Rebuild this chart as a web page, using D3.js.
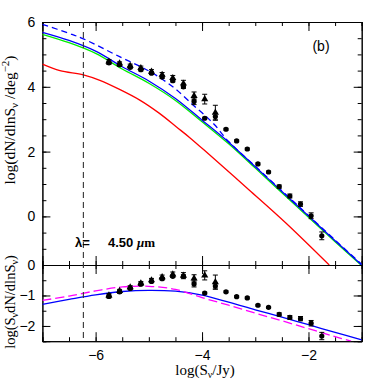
<!DOCTYPE html>
<html>
<head>
<meta charset="utf-8">
<script src="https://cdn.jsdelivr.net/npm/d3@7"></script>
<style>
  body { margin: 0; background: #fff; }
  svg { display: block; }
</style>
</head>
<body>
<div id="chart"></div>
<script>
// model curves, top panel: log(dN/dlnS)
const gridX = [-7, -6.5, -6, -5.5, -5, -4.5, -4, -3.5, -3, -2.5, -2, -1.5, -1];
const blueTop = [5.68, 5.43, 5.10, 4.62, 4.18, 3.64, 2.97, 2.29, 1.53, 0.77, 0.01, -0.75, -1.50];
const greenTop = [5.62, 5.36, 5.03, 4.55, 4.11, 3.58, 2.92, 2.24, 1.49, 0.73, -0.03, -0.78, -1.52];
const dashX = [-7, -6.5, -6.23, -5.55, -4.98, -4.55, -4.17, -3.92, -3.76, -3.5, -3, -2.5, -2, -1.5, -1];
const dashTop = [5.93, 5.65, 5.48, 4.93, 4.47, 4.00, 3.44, 3.08, 2.82, 2.31, 1.55, 0.79, 0.03, -0.73, -1.48];
const redX = [-7, -6.67, -6.23, -5.92, -5.55, -5.17, -4.8, -4.48, -4.23, -3.86, -3.11, -2.42, -1.61];
const redTop = [4.70, 4.50, 4.37, 4.20, 3.92, 3.59, 3.18, 2.76, 2.43, 1.90, 0.81, -0.21, -1.50];

// model curves, bottom panel: log(S dN/dlnS)
const blueBot = [-1.29, -1.13, -0.98, -0.87, -0.83, -0.86, -0.99, -1.22, -1.47, -1.71, -1.96, -2.21, -2.46];
const magX = [-7, -6.5, -6, -5.5, -5, -4.5, -4, -3.5, -3, -2.5, -2, -1.5, -1.2];
const magBot = [-1.16, -1.02, -0.85, -0.72, -0.70, -0.80, -1.07, -1.32, -1.58, -1.83, -2.09, -2.35, -2.50];

// data: triangles
const triX = [-5.75, -5.55, -5.35, -5.15, -4.95, -4.75, -4.55, -4.35, -4.15, -3.95, -3.75];
const triTop = [4.78, 4.72, 4.65, 4.58, 4.47, 4.37, 4.27, 4.10, 3.72, 3.62, 3.20];
const triBot = [-1.00, -0.85, -0.73, -0.60, -0.50, -0.40, -0.31, -0.35, -0.44, -0.34, -0.56];
const triErr = [0.06, 0.05, 0.05, 0.06, 0.06, 0.07, 0.08, 0.10, 0.12, 0.15, 0.23];

// data: circles
const cirX = [-5.75, -5.55, -5.35, -5.15, -4.95, -4.75, -4.55, -4.35, -4.15, -3.95, -3.75, -3.55, -3.35,
              -3.15, -2.95, -2.75, -2.55, -2.35, -2.15, -1.95, -1.75];
const cirTop = [4.74, 4.68, 4.60, 4.53, 4.42, 4.30, 4.19, 4.00, 3.55, 3.03, 3.08, 2.69, 2.33,
                2.08, 1.62, 1.37, 0.92, 0.63, 0.38, 0.02, -0.60];
const cirBot = [-1.03, -0.88, -0.77, -0.63, -0.54, -0.45, -0.37, -0.37, -0.62, -0.92, -0.69, -0.88, -1.04,
                -1.08, -1.32, -1.39, -1.62, -1.72, -1.76, -1.91, -2.33];
const cirErr = [0.05, 0.05, 0.04, 0.04, 0.04, 0.04, 0.04, 0.05, 0.10, 0.03, 0.10, 0.03, 0.03,
                0.03, 0.03, 0.03, 0.05, 0.06, 0.07, 0.09, 0.12];

const lambdaX = -6.23;

const svg = d3.select("#chart").append("svg")
    .attr("width", 382).attr("height", 382);

const x = d3.scaleLinear().domain([-7, -1]).range([42.4, 361.7]);
const yTop = d3.scaleLinear().domain([-1.5, 6]).range([265, 22]);
const yBot = d3.scaleLinear().domain([-2.5, 0]).range([341.2, 265]);

const defs = svg.append("defs");
defs.append("clipPath").attr("id", "clipTop").append("rect")
    .attr("x", x(-7)).attr("y", yTop(6)).attr("width", x(-1) - x(-7)).attr("height", yTop(-1.5) - yTop(6));
defs.append("clipPath").attr("id", "clipBot").append("rect")
    .attr("x", x(-7)).attr("y", yBot(0)).attr("width", x(-1) - x(-7)).attr("height", yBot(-2.5) - yBot(0));

const range = (a, b, s) => d3.range(a, b + s / 2, s);

// axes with inward ticks, minor + major
const drawAxes = (y, yMajor, yMinor, labelY, showX) => {
    const style = g => {
        g.select(".domain").attr("stroke", "#000").attr("stroke-width", 1);
        g.selectAll("line").attr("stroke", "#000").attr("stroke-width", 1);
        g.selectAll("text").attr("font-family", "Liberation Sans, Arial, sans-serif")
            .attr("font-size", 14).attr("fill", "#000");
    };
    const [y0, y1] = y.range();
    const xMinor = range(-7, -1, 0.5);
    const xMajor = [-6, -4, -2];
    // bottom
    svg.append("g").attr("transform", `translate(0,${y0})`)
        .call(d3.axisBottom(x).tickValues(xMinor).tickSize(-4).tickFormat("")).call(style);
    svg.append("g").attr("transform", `translate(0,${y0})`)
        .call(d3.axisBottom(x).tickValues(xMajor).tickSize(-9).tickPadding(9)
            .tickFormat(showX ? d3.format("d") : "")).call(style);
    // top
    svg.append("g").attr("transform", `translate(0,${y1})`)
        .call(d3.axisTop(x).tickValues(xMinor).tickSize(-4).tickFormat("")).call(style);
    svg.append("g").attr("transform", `translate(0,${y1})`)
        .call(d3.axisTop(x).tickValues(xMajor).tickSize(-9).tickFormat("")).call(style);
    // left
    svg.append("g").attr("transform", `translate(${x(-7)},0)`)
        .call(d3.axisLeft(y).tickValues(yMinor).tickSize(-4).tickFormat("")).call(style);
    svg.append("g").attr("transform", `translate(${x(-7)},0)`)
        .call(d3.axisLeft(y).tickValues(yMajor).tickSize(-8).tickPadding(7)
            .tickFormat(d => labelY.includes(d) ? d3.format("d")(d) : "")).call(style);
    // right
    svg.append("g").attr("transform", `translate(${x(-1)},0)`)
        .call(d3.axisRight(y).tickValues(yMinor).tickSize(-4).tickFormat("")).call(style);
    svg.append("g").attr("transform", `translate(${x(-1)},0)`)
        .call(d3.axisRight(y).tickValues(yMajor).tickSize(-8).tickFormat("")).call(style);
};

drawAxes(yTop, [0, 2, 4, 6], range(-1.5, 6, 0.5), [0, 2, 4, 6], false);
drawAxes(yBot, [-2, -1, 0], range(-2.5, 0, 0.5), [-2, -1, 0], true);

const curve = (g, xs, ys, y, color, dash) => {
    const line = d3.line().x(d => x(d[0])).y(d => y(d[1])).curve(d3.curveCatmullRom.alpha(0.5));
    g.append("path")
        .datum(d3.zip(xs, ys))
        .attr("fill", "none")
        .attr("stroke", color)
        .attr("stroke-width", 1.3)
        .attr("stroke-dasharray", dash || null)
        .attr("d", line);
};

const gTop = svg.append("g").attr("clip-path", "url(#clipTop)");
curve(gTop, redX, redTop, yTop, "#ff0000");
curve(gTop, gridX, greenTop, yTop, "#00ee00");
curve(gTop, gridX, blueTop, yTop, "#0000ff");
curve(gTop, dashX, dashTop, yTop, "#0000ff", "6,4");

const gBot = svg.append("g").attr("clip-path", "url(#clipBot)");
curve(gBot, gridX, blueBot, yBot, "#0000ff");
curve(gBot, magX, magBot, yBot, "#ff00ff", "9,4");

// lambda marker line
svg.append("line")
    .attr("x1", x(lambdaX)).attr("x2", x(lambdaX))
    .attr("y1", yTop(6)).attr("y2", yBot(-2.5))
    .attr("stroke", "#333").attr("stroke-width", 1.1)
    .attr("stroke-dasharray", "6,4");

// points with error bars
const points = (xs, ys, errs, y, shape) => {
    const g = svg.append("g");
    xs.forEach((xv, i) => {
        const cx = x(xv), cy = y(ys[i]);
        const hi = y(ys[i] + errs[i]), lo = y(ys[i] - errs[i]);
        g.append("line").attr("x1", cx).attr("x2", cx).attr("y1", hi).attr("y2", lo)
            .attr("stroke", "#000").attr("stroke-width", 1);
        [hi, lo].forEach(v => g.append("line")
            .attr("x1", cx - 2.5).attr("x2", cx + 2.5).attr("y1", v).attr("y2", v)
            .attr("stroke", "#000").attr("stroke-width", 1));
        if (shape === "circle") {
            g.append("circle").attr("cx", cx).attr("cy", cy).attr("r", 2.6).attr("fill", "#000");
        } else {
            g.append("path")
                .attr("d", d3.symbol().type(d3.symbolTriangle).size(22)())
                .attr("transform", `translate(${cx},${cy})`)
                .attr("fill", "#000");
        }
    });
};

points(cirX, cirTop, cirErr, yTop, "circle");
points(triX, triTop, triErr, yTop, "triangle");
points(cirX, cirBot, cirErr, yBot, "circle");
points(triX, triBot, triErr, yBot, "triangle");

// texts
const serif = "Liberation Serif, Times New Roman, serif";
svg.append("text").attr("x", 321).attr("y", 51).attr("text-anchor", "middle")
    .attr("font-family", "Liberation Sans, Arial, sans-serif").attr("font-size", 14).text("(b)");

svg.append("text").attr("x", 75).attr("y", 247)
    .attr("font-family", "Liberation Sans, Arial, sans-serif").attr("font-size", 13)
    .attr("font-weight", "bold").text("λ=");
const lt = svg.append("text").attr("x", 108).attr("y", 247)
    .attr("font-family", "Liberation Sans, Arial, sans-serif").attr("font-size", 13)
    .attr("font-weight", "bold");
lt.append("tspan").text("4.50  ");
lt.append("tspan").attr("font-family", serif).attr("font-style", "italic").text("μ");
lt.append("tspan").attr("font-family", serif).text("m");

const xt = svg.append("text").attr("x", 205).attr("y", 375).attr("text-anchor", "middle")
    .attr("font-family", serif).attr("font-size", 15);
xt.append("tspan").text("log(S");
xt.append("tspan").attr("dy", 3).attr("font-size", 10).text("ν");
xt.append("tspan").attr("dy", -3).text("/Jy)");

const yt = svg.append("text").attr("transform", "translate(15,120) rotate(-90)")
    .attr("text-anchor", "middle").attr("font-family", serif).attr("font-size", 15.5);
yt.append("tspan").text("log(dN/dlnS");
yt.append("tspan").attr("dy", 3).attr("font-size", 11).text("ν");
yt.append("tspan").attr("dy", -3).text("  /deg");
yt.append("tspan").attr("dy", -6).attr("font-size", 11).text("−2");
yt.append("tspan").attr("dy", 6).text(")");

const yb = svg.append("text").attr("transform", "translate(15,302) rotate(-90)")
    .attr("text-anchor", "middle").attr("font-family", serif).attr("font-size", 14.5);
yb.append("tspan").text("log(S");
yb.append("tspan").attr("dy", 3).attr("font-size", 10).text("ν");
yb.append("tspan").attr("dy", -3).text("dN/dlnS");
yb.append("tspan").attr("dy", 3).attr("font-size", 10).text("ν");
yb.append("tspan").attr("dy", -3).text(")");
</script>
</body>
</html>
